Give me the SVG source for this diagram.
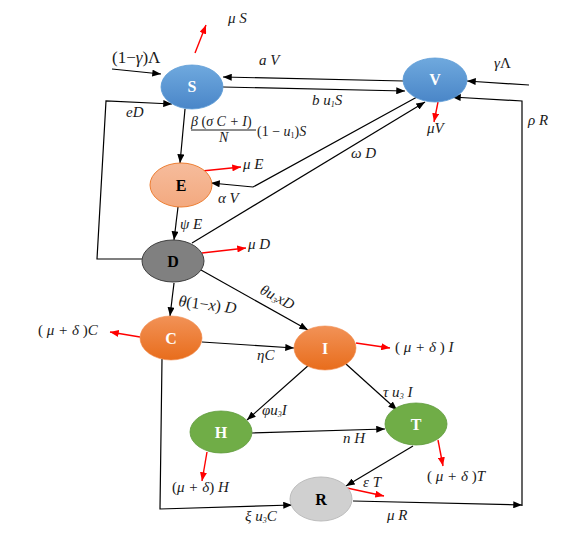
<svg xmlns="http://www.w3.org/2000/svg" width="574" height="540" viewBox="0 0 574 540">
<style>
.bg{fill:#fff}
.ln{fill:none;stroke:#000;stroke-width:1.2}
.rd{fill:none;stroke:#ff0000;stroke-width:1.4}
.lb{font-family:"Liberation Serif","Times New Roman",serif;font-style:italic;font-size:15px;fill:#1a1a1a}
.up{font-style:normal}
.sub{font-size:8px}
.nl{font-family:"Liberation Serif","Times New Roman",serif;font-weight:bold;font-size:16px;text-anchor:middle}
.w{fill:#fff}
.k{fill:#000}
</style>
<defs>
<marker id="ab" viewBox="0 0 10 8" refX="10" refY="4" markerWidth="9" markerHeight="7" markerUnits="userSpaceOnUse" orient="auto"><path d="M0,0 L10,4 L0,8 z" fill="#000"/></marker>
<marker id="ar" viewBox="0 0 10 8" refX="10" refY="4" markerWidth="9" markerHeight="7" markerUnits="userSpaceOnUse" orient="auto"><path d="M0,0 L10,4 L0,8 z" fill="#ff0000"/></marker>
<linearGradient id="gb" x1="0" y1="0" x2="0" y2="1"><stop offset="0" stop-color="#6fa9de"/><stop offset="1" stop-color="#4a86c8"/></linearGradient>
<linearGradient id="go" x1="0" y1="0" x2="0" y2="1"><stop offset="0" stop-color="#f29257"/><stop offset="1" stop-color="#e86d1c"/></linearGradient>
<linearGradient id="ge" x1="0" y1="0" x2="0" y2="1"><stop offset="0" stop-color="#f6bc9c"/><stop offset="1" stop-color="#f3a97f"/></linearGradient>
</defs>
<rect class="bg" x="0" y="0" width="574" height="540"/>

<g id="connectors">
<line class="ln" x1="112" y1="69" x2="161" y2="74" marker-end="url(#ab)"/>
<line class="ln" x1="404" y1="81" x2="223" y2="77" marker-end="url(#ab)"/>
<line class="ln" x1="223" y1="87" x2="405" y2="91" marker-end="url(#ab)"/>
<line class="ln" x1="529" y1="85" x2="467" y2="81" marker-end="url(#ab)"/>
<polyline class="ln" points="142,259 97,259 106,101 172,104" marker-end="url(#ab)"/>
<line class="ln" x1="185" y1="109" x2="180" y2="163" marker-end="url(#ab)"/>
<polyline class="ln" points="417,97 253,187 211,183" marker-end="url(#ab)"/>
<line class="ln" x1="192" y1="243" x2="425" y2="102" marker-end="url(#ab)"/>
<line class="ln" x1="178" y1="207" x2="174" y2="240" marker-end="url(#ab)"/>
<line class="ln" x1="174" y1="283" x2="170" y2="316" marker-end="url(#ab)"/>
<line class="ln" x1="201" y1="270" x2="308" y2="330" marker-end="url(#ab)"/>
<line class="ln" x1="202" y1="342" x2="294" y2="348" marker-end="url(#ab)"/>
<line class="ln" x1="310" y1="364" x2="247" y2="420" marker-end="url(#ab)"/>
<line class="ln" x1="346" y1="364" x2="397" y2="410" marker-end="url(#ab)"/>
<line class="ln" x1="252" y1="433" x2="385" y2="429" marker-end="url(#ab)"/>
<line class="ln" x1="413" y1="446" x2="346" y2="486" marker-end="url(#ab)"/>
<polyline class="ln" points="162,359 160,509 292,505" marker-end="url(#ab)"/>
<line class="ln" x1="353" y1="501" x2="522" y2="505" marker-end="url(#ab)"/>
<polyline class="ln" points="522,506 522,101 452,97" marker-end="url(#ab)"/>

<line class="rd" x1="195" y1="53" x2="206" y2="25" marker-end="url(#ar)"/>
<line class="rd" x1="438" y1="102" x2="434" y2="122" marker-end="url(#ar)"/>
<line class="rd" x1="202" y1="171" x2="241" y2="167" marker-end="url(#ar)"/>
<line class="rd" x1="202" y1="253" x2="246" y2="248" marker-end="url(#ar)"/>
<line class="rd" x1="140" y1="337" x2="110" y2="332" marker-end="url(#ar)"/>
<line class="rd" x1="356" y1="343" x2="390" y2="348" marker-end="url(#ar)"/>
<line class="rd" x1="207" y1="452" x2="202" y2="481" marker-end="url(#ar)"/>
<line class="rd" x1="438" y1="440" x2="443" y2="466" marker-end="url(#ar)"/>
<line class="rd" x1="347" y1="488" x2="384" y2="496" marker-end="url(#ar)"/>
</g>

<g id="labels">
<text class="lb" x="228" y="23">μ S</text>
<text class="lb" x="112" y="63" style="font-size:17px"><tspan class="up">(1−</tspan>γ<tspan class="up">)Λ</tspan></text>
<text class="lb" x="259" y="65">a V</text>
<text class="lb" x="312" y="105">b u<tspan class="sub" dy="2">1</tspan><tspan dy="-2">S</tspan></text>
<text class="lb" x="494" y="68">γ<tspan class="up">Λ</tspan></text>
<text class="lb" x="427" y="133">μV</text>
<text class="lb" x="528" y="125">ρ R</text>
<text class="lb" x="126" y="117">eD</text>
<text class="lb" x="191" y="126" style="font-size:14px">β  <tspan class="up">(</tspan>σ C  + I<tspan class="up">)</tspan></text>
<line x1="191" y1="130" x2="256" y2="130" stroke="#000" stroke-width="0.9"/>
<text class="lb" x="219" y="142" style="font-size:14px">N</text>
<text class="lb" x="257" y="136" style="font-size:14px"><tspan class="up">(1 − </tspan>u<tspan class="sub up" dy="2">1</tspan><tspan class="up" dy="-2">)</tspan>S</text>
<text class="lb" x="218" y="203">α V</text>
<text class="lb" x="351" y="158">ω D</text>
<text class="lb" x="243" y="169">μ E</text>
<text class="lb" x="180" y="229">ψ E</text>
<text class="lb" x="248" y="249">μ D</text>
<text class="lb" transform="translate(178,306) rotate(7.5)" style="font-size:16px">θ<tspan class="up">(1−</tspan>x<tspan class="up">)</tspan> D</text>
<text class="lb" transform="translate(259,293) rotate(28)">θu<tspan class="sub" dy="2">3</tspan><tspan dy="-2">xD</tspan></text>
<text class="lb" x="38" y="335"><tspan class="up">(</tspan> μ + δ <tspan class="up">)</tspan>C</text>
<text class="lb" x="257" y="360">ηC</text>
<text class="lb" x="395" y="352"><tspan class="up">(</tspan> μ + δ <tspan class="up">)</tspan> I</text>
<text class="lb" x="262" y="415">φu<tspan class="sub" dy="2">3</tspan><tspan dy="-2">I</tspan></text>
<text class="lb" x="383" y="397">τ u<tspan class="sub" dy="2">3</tspan><tspan dy="-2"> I</tspan></text>
<text class="lb" x="343" y="443">n H</text>
<text class="lb" x="172" y="492"><tspan class="up">(</tspan>μ + δ<tspan class="up">)</tspan> H</text>
<text class="lb" x="427" y="481"><tspan class="up">(</tspan> μ + δ <tspan class="up">)</tspan>T</text>
<text class="lb" x="363" y="487">ε T</text>
<text class="lb" x="387" y="520">μ R</text>
<text class="lb" x="245" y="521">ξ u<tspan class="sub" dy="2">3</tspan><tspan dy="-2">C</tspan></text>
</g>

<g id="node-S"><ellipse cx="192" cy="87" rx="31" ry="22" fill="url(#gb)" stroke="#5b9bd5" stroke-width="0.8"/><text class="nl w" x="192" y="92">S</text></g>
<g id="node-V"><ellipse cx="435" cy="80" rx="32" ry="22" fill="url(#gb)" stroke="#5b9bd5" stroke-width="0.8"/><text class="nl w" x="435" y="85">V</text></g>
<g id="node-E"><ellipse cx="181" cy="185" rx="31" ry="22" fill="url(#ge)" stroke="#ed7d31" stroke-width="1"/><text class="nl k" x="181" y="191">E</text></g>
<g id="node-D"><ellipse cx="173" cy="261" rx="31" ry="21" fill="#808080" stroke="#3f3f3f" stroke-width="1"/><text class="nl k" x="173" y="267">D</text></g>
<g id="node-C"><ellipse cx="171" cy="338" rx="31" ry="22" fill="url(#go)" stroke="#f08a4b" stroke-width="0.6"/><text class="nl w" x="171" y="344">C</text></g>
<g id="node-I"><ellipse cx="325" cy="348" rx="31" ry="22" fill="url(#go)" stroke="#f08a4b" stroke-width="0.6"/><text class="nl w" x="325" y="354">I</text></g>
<g id="node-H"><ellipse cx="221" cy="432" rx="31" ry="21" fill="#70ad47" stroke="#5f9a3c" stroke-width="0.8"/><text class="nl w" x="221" y="438">H</text></g>
<g id="node-T"><ellipse cx="416" cy="424" rx="31" ry="21" fill="#70ad47" stroke="#5f9a3c" stroke-width="0.8"/><text class="nl w" x="416" y="430">T</text></g>
<g id="node-R"><ellipse cx="321" cy="499" rx="31" ry="22" fill="#d0d0d0" stroke="#bcbcbc" stroke-width="1"/><text class="nl k" x="321" y="505">R</text></g>
</svg>
